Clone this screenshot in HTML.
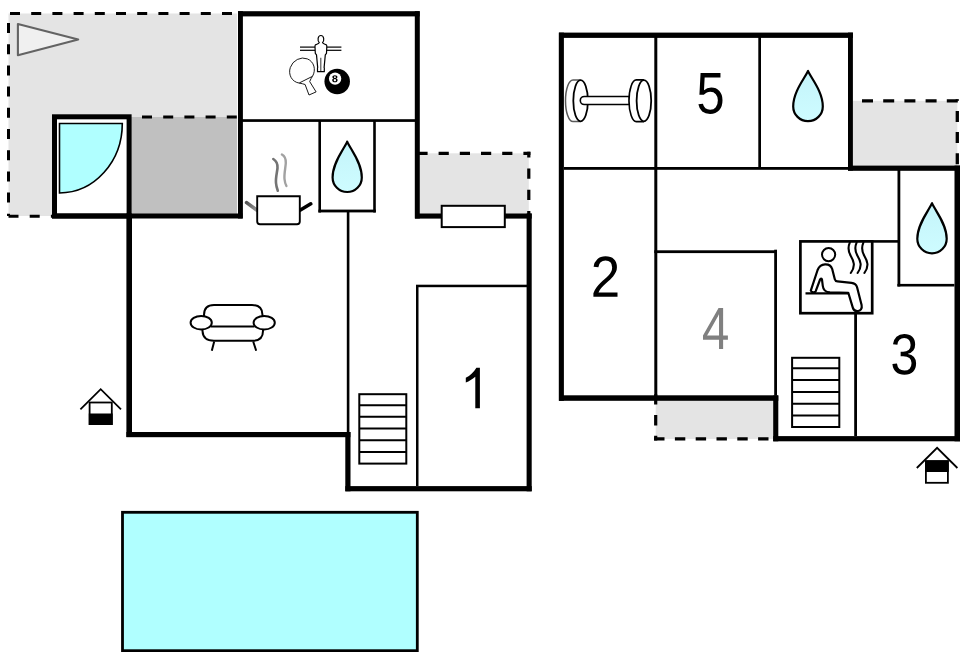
<!DOCTYPE html>
<html><head><meta charset="utf-8">
<style>
html,body{margin:0;padding:0;background:#fff;width:960px;height:652px;overflow:hidden}
svg{display:block}
text{font-family:"Liberation Sans",sans-serif}
</style></head>
<body>
<svg width="960" height="652" viewBox="0 0 960 652">
<defs>
<linearGradient id="drop" x1="0" y1="0" x2="0" y2="1">
<stop offset="0" stop-color="#c4f4fa"/><stop offset="1" stop-color="#cefcff"/>
</linearGradient>
<linearGradient id="hl" gradientUnits="userSpaceOnUse" x1="246.6" y1="202.6" x2="257" y2="210.2"><stop offset="0" stop-color="#555"/><stop offset="1" stop-color="#999"/></linearGradient>
</defs>
<!-- ===== LEFT BUILDING ===== -->
<!-- terrace top-left -->
<rect x="8.5" y="13.5" width="228.6" height="202.5" fill="#e4e4e4"/>
<rect x="131" y="117" width="106.1" height="97" fill="#c0c0c0"/>
<g stroke="#000" stroke-width="3" fill="none" stroke-dasharray="10 11.2">
<line x1="10" y1="13.5" x2="238" y2="13.5"/>
<line x1="8.5" y1="23" x2="8.5" y2="216"/>
<line x1="8.5" y1="216.2" x2="52" y2="216.2"/>
<line x1="142" y1="117.1" x2="238" y2="117.1"/>
</g>
<!-- triangle -->
<polygon points="17.9,24 17.9,55.2 78.2,39.6" fill="#f0f0f0" stroke="#636363" stroke-width="2.1" stroke-linejoin="round"/>
<!-- shower box -->
<rect x="54.5" y="116.8" width="74.6" height="99.2" fill="#fff" stroke="#000" stroke-width="5"/>
<path d="M59.5,123.5 H122.3 A63,69.5 0 0 1 59.5,193 Z" fill="#b0ffff" stroke="#000" stroke-width="1.6"/>

<!-- right terrace of left building -->
<rect x="420" y="153.3" width="108.8" height="61" fill="#e4e4e4"/>
<g stroke="#000" stroke-width="3.2" fill="none" stroke-dasharray="10.2 11">
<line x1="417.4" y1="153.3" x2="530.4" y2="153.3"/>
<line x1="528.8" y1="151.7" x2="528.8" y2="214" stroke-dashoffset="4.4"/>
</g>

<!-- game room walls -->
<g fill="#000">
<rect x="238" y="11.2" width="181.6" height="5.2"/>
<rect x="238" y="11.2" width="4.9" height="207.3"/>
<rect x="414.8" y="11.2" width="5" height="207.3"/>
<!-- living room -->
<rect x="52" y="213.5" width="190.5" height="5"/>
<rect x="126.4" y="213.5" width="5.6" height="223.5"/>
<rect x="126.4" y="432" width="224" height="5.2"/>
<rect x="345.3" y="432" width="5.2" height="59.3"/>
<rect x="345.3" y="486.1" width="186.4" height="5.2"/>
<rect x="526.6" y="213.5" width="5.1" height="277.8"/>
<rect x="415" y="213.5" width="116.7" height="5.1"/>
<!-- thin interior lines -->
<rect x="242" y="119.2" width="173" height="2.7"/>
<rect x="318.4" y="121" width="2.6" height="91.5"/>
<rect x="373.2" y="121" width="2.6" height="91.5"/>
<rect x="318.4" y="209.6" width="57.4" height="2.8"/>
<rect x="346.8" y="212" width="2.6" height="220"/>
<rect x="416" y="284.7" width="111" height="2.5"/>
<rect x="416" y="285" width="2.5" height="201"/>
</g>
<!-- bench -->
<rect x="441.7" y="205.8" width="63.1" height="21.3" fill="#fff" stroke="#000" stroke-width="2"/>
<!-- stairs left -->
<g fill="none" stroke="#000" stroke-width="2">
<rect x="359.3" y="394.2" width="47" height="69.4"/>
<path d="M359.3,405.3H406.3M359.3,416.8H406.3M359.3,428.5H406.3M359.3,440.3H406.3M359.3,451.9H406.3"/>
</g>
<!-- label 1 -->
<path d="M479.9,367.8 V408.2 H475.3 V376.8 C472.3,379.3 469.2,381.3 465.8,382.6 V377.8 C470.2,375.8 474,372 476.4,367.8 Z" fill="#000"/>

<!-- water drop 1 -->
<path d="M347.20,141.60 C344.28,148.76 332.60,162.36 332.60,177.40 C332.60,185.46 339.14,192.00 347.20,192.00 C355.26,192.00 361.80,185.46 361.80,177.40 C361.80,162.36 350.12,148.76 347.20,141.60 Z" fill="url(#drop)" stroke="#000" stroke-width="2.2" stroke-linejoin="round"/>

<!-- pool -->
<rect x="122.5" y="512.3" width="294.8" height="138.4" fill="#b0ffff" stroke="#000" stroke-width="2.8"/>

<!-- ===== RIGHT BUILDING ===== -->
<rect x="853" y="100.8" width="104.3" height="65" fill="#e4e4e4"/>
<g stroke="#000" stroke-width="3.3" fill="none" stroke-dasharray="11 10.2">
<line x1="862" y1="100.8" x2="959" y2="100.8"/>
<line x1="957.3" y1="99.2" x2="957.3" y2="166" stroke-dashoffset="9.5"/>
</g>
<rect x="655.7" y="400.5" width="118" height="38.4" fill="#e4e4e4"/>
<g stroke="#000" stroke-width="3.2" fill="none" stroke-dasharray="10.4 10.4">
<line x1="655.7" y1="394.2" x2="655.7" y2="440.5"/>
<line x1="654.1" y1="438.9" x2="774" y2="438.9"/>
</g>
<g fill="#000">
<rect x="559" y="32.6" width="293.9" height="5.3"/>
<rect x="558.8" y="32.6" width="5.1" height="368.2"/>
<rect x="848" y="32.6" width="4.9" height="138"/>
<rect x="848" y="165.6" width="112" height="5.2"/>
<rect x="954.5" y="165.6" width="5.5" height="275.7"/>
<rect x="559" y="395.3" width="219.3" height="5.5"/>
<rect x="773.2" y="395.5" width="5.1" height="45.8"/>
<rect x="773.2" y="436.1" width="186.8" height="5.2"/>
<!-- interior -->
<rect x="654.3" y="37" width="3" height="360"/>
<rect x="758.3" y="37" width="2.7" height="131"/>
<rect x="564" y="167" width="284" height="2.8"/>
<rect x="654.3" y="250.3" width="122.7" height="2.8"/>
<rect x="774.2" y="249.7" width="2.8" height="146"/>
<rect x="860" y="240.1" width="40" height="2.6"/>
<rect x="897.5" y="169" width="2.8" height="117.5"/>
<rect x="897.4" y="283.9" width="57" height="2.6"/>
<rect x="854.2" y="314" width="2.8" height="122"/>
</g>
<!-- sauna box -->
<rect x="800.4" y="241.4" width="71.8" height="71.8" fill="#fff" stroke="#000" stroke-width="2.7"/>
<!-- stairs right -->
<g fill="none" stroke="#000" stroke-width="2">
<rect x="792.1" y="357.8" width="47.2" height="69.2"/>
<path d="M792.1,368.3H839.3M792.1,380.1H839.3M792.1,391.9H839.3M792.1,403.7H839.3M792.1,415.5H839.3"/>
</g>
<!-- labels -->
<path d="M722.5 100.19Q722.5 106.57 719.21 110.24Q715.92 113.9 710.09 113.9Q705.2 113.9 702.2 111.44Q699.19 108.98 698.4 104.31L702.92 103.71Q704.33 109.69 710.19 109.69Q713.79 109.69 715.82 107.19Q717.86 104.68 717.86 100.3Q717.86 96.5 715.81 94.15Q713.76 91.8 710.29 91.8Q708.48 91.8 706.91 92.46Q705.35 93.12 703.79 94.7H699.42L700.58 73H720.46V77.38H704.65L703.98 90.17Q706.89 87.6 711.21 87.6Q716.37 87.6 719.43 91.09Q722.5 94.58 722.5 100.19Z" fill="#000"/>
<path d="M593.4 296.8V293.2Q594.72 289.89 596.62 287.35Q598.51 284.82 600.61 282.77Q602.7 280.71 604.75 278.96Q606.81 277.2 608.46 275.45Q610.11 273.69 611.13 271.76Q612.15 269.84 612.15 267.4Q612.15 264.12 610.4 262.3Q608.64 260.49 605.51 260.49Q602.54 260.49 600.62 262.26Q598.7 264.03 598.36 267.23L593.61 266.75Q594.12 261.96 597.31 259.13Q600.5 256.3 605.51 256.3Q611.02 256.3 613.97 259.15Q616.93 261.99 616.93 267.23Q616.93 269.55 615.96 271.85Q614.99 274.14 613.08 276.44Q611.17 278.73 605.77 283.55Q602.8 286.21 601.05 288.35Q599.29 290.48 598.51 292.47H617.5V296.8Z" fill="#000"/>
<path d="M723.12 339.64V348.9H719.02V339.64H703V335.58L718.56 308H723.12V335.52H727.9V339.64ZM719.02 313.89Q718.97 314.07 718.35 315.43Q717.72 316.8 717.4 317.35L708.69 332.79L707.39 334.94L707.01 335.52H719.02Z" fill="#808080"/>
<path d="M916.1 363.26Q916.1 368.76 913.07 371.78Q910.05 374.8 904.43 374.8Q899.21 374.8 896.1 372.08Q892.99 369.36 892.4 364.02L896.94 363.55Q897.82 370.6 904.43 370.6Q907.75 370.6 909.64 368.71Q911.54 366.82 911.54 363.09Q911.54 359.85 909.38 358.03Q907.22 356.21 903.14 356.21H900.65V351.81H903.04Q906.65 351.81 908.64 349.99Q910.63 348.17 910.63 344.96Q910.63 341.77 909.01 339.92Q907.39 338.07 904.19 338.07Q901.28 338.07 899.49 339.8Q897.7 341.52 897.4 344.65L892.99 344.25Q893.47 339.37 896.49 336.64Q899.5 333.9 904.24 333.9Q909.41 333.9 912.28 336.68Q915.15 339.46 915.15 344.42Q915.15 348.23 913.31 350.61Q911.46 353 907.95 353.84V353.96Q911.8 354.43 913.95 356.95Q916.1 359.46 916.1 363.26Z" fill="#000"/>
<!-- drops -->
<path d="M808.00,70.90 C805.04,78.00 793.20,91.49 793.20,106.40 C793.20,114.57 799.83,121.20 808.00,121.20 C816.17,121.20 822.80,114.57 822.80,106.40 C822.80,91.49 810.96,78.00 808.00,70.90 Z" fill="url(#drop)" stroke="#000" stroke-width="2.2" stroke-linejoin="round"/>
<path d="M932.00,203.20 C929.06,210.30 917.30,223.79 917.30,238.70 C917.30,246.82 923.88,253.40 932.00,253.40 C940.12,253.40 946.70,246.82 946.70,238.70 C946.70,223.79 934.94,210.30 932.00,203.20 Z" fill="url(#drop)" stroke="#000" stroke-width="2.2" stroke-linejoin="round"/>

<!-- house icons -->
<g>
<path d="M80.4,409.3 L100.7,389.2 L121,409.3" fill="none" stroke="#000" stroke-width="1.8"/>
<rect x="89.6" y="402.5" width="22.2" height="21.6" fill="#fff" stroke="#000" stroke-width="1.8"/>
<rect x="88.8" y="413.5" width="23.9" height="11.4" fill="#000"/>
</g>
<g>
<path d="M916.8,468 L937.1,447.8 L957.4,468" fill="none" stroke="#000" stroke-width="1.8"/>
<rect x="925.9" y="461.2" width="22" height="21.6" fill="#fff" stroke="#000" stroke-width="1.8"/>
<rect x="925" y="460.3" width="23.7" height="11.7" fill="#000"/>
</g>

<!-- ===== ICONS ===== -->
<!-- foosball figure -->
<g stroke="#000" stroke-width="1.2" fill="none">
<line x1="300" y1="47.1" x2="315" y2="47.1"/><line x1="300" y1="50.3" x2="315" y2="50.3"/>
<line x1="326.5" y1="47.1" x2="341.4" y2="47.1"/><line x1="326.5" y1="50.3" x2="341.4" y2="50.3"/>
<path d="M319.3,42.4 C317.4,41.2 317.5,35.5 320.9,35.5 C324.3,35.5 324.4,41.2 322.5,42.4 C322.8,43.8 324.6,44 325.9,44.6 C326.8,45.1 326.9,45.8 326.8,46.6 L326.5,53.3 L325.3,54.9 L324.1,67.6 L324.3,67.8 L324.3,71.7 L317.5,71.7 L317.5,67.8 L317.7,67.6 L316.5,54.9 L315.3,53.3 L315,46.6 C314.9,45.8 315,45.1 315.9,44.6 C317.2,44 319,43.8 319.3,42.4 Z" fill="#fff" stroke-linejoin="round"/>
<line x1="320.8" y1="57.8" x2="320.8" y2="70.9" stroke="#444" stroke-width="1.1"/>
</g>
<!-- paddle -->
<g stroke="#000" stroke-width="0.9" fill="#fff">
<path d="M299.1,83.05 C301.2,83.8 303.6,83.6 305.1,84.5 L309,95 L316.1,91.9 L309.7,81.6 C310.3,79.6 311.6,77.6 312.5,76.3" stroke-linejoin="round"/>
<path d="M299.1,83.05 A11.9,13.0 40 1 1 312.5,76.3 Z"/>
</g>
<!-- 8 ball -->
<circle cx="337.2" cy="81.5" r="12.75" fill="#000"/>
<circle cx="335.1" cy="78.7" r="6.15" fill="#fff"/>
<path d="M337.6 80.19Q337.6 81.14 336.9 81.67Q336.2 82.2 334.9 82.2Q333.62 82.2 332.91 81.67Q332.2 81.15 332.2 80.2Q332.2 79.54 332.62 79.1Q333.03 78.65 333.73 78.55V78.53Q333.12 78.41 332.75 77.98Q332.38 77.56 332.38 77Q332.38 76.17 333.03 75.68Q333.68 75.2 334.88 75.2Q336.1 75.2 336.76 75.67Q337.41 76.14 337.41 77.01Q337.41 77.57 337.04 77.99Q336.67 78.41 336.05 78.52V78.54Q336.77 78.64 337.19 79.07Q337.6 79.51 337.6 80.19ZM335.87 77.08Q335.87 76.6 335.62 76.38Q335.38 76.15 334.88 76.15Q333.91 76.15 333.91 77.08Q333.91 78.06 334.89 78.06Q335.38 78.06 335.63 77.83Q335.87 77.6 335.87 77.08ZM336.05 80.08Q336.05 79.01 334.87 79.01Q334.33 79.01 334.03 79.29Q333.74 79.57 333.74 80.1Q333.74 80.69 334.03 80.97Q334.32 81.24 334.91 81.24Q335.5 81.24 335.77 80.97Q336.05 80.69 336.05 80.08Z" fill="#000"/>

<!-- pot -->
<g>
<path d="M273.3,159 C276.5,161 277.8,164 277.5,168 C277,173 275.5,178 276,183 C276.2,186 277,188.5 277.8,190.7" fill="none" stroke="#747474" stroke-width="2.6" stroke-linecap="round"/>
<path d="M281.9,154.5 C284.6,156 286,159 285.8,163 C285.5,168 284,174 284.5,179 C284.8,182 285.5,184.5 286.4,185.9" fill="none" stroke="#a2a2a2" stroke-width="2.4" stroke-linecap="round"/>
<line x1="246.6" y1="202.6" x2="257" y2="210.2" stroke="url(#hl)" stroke-width="3.6" stroke-linecap="round"/>
<line x1="300" y1="210.2" x2="310.8" y2="203.8" stroke="#000" stroke-width="3.6" stroke-linecap="round"/>
<path d="M257.2,196.2 H299.8 V221.5 Q299.8,224.2 297,224.2 H260 Q257.2,224.2 257.2,221.5 Z" fill="#fff" stroke="#000" stroke-width="1.9"/>
</g>

<!-- sofa -->
<g fill="#fff" stroke="#000" stroke-width="2">
<path d="M204,322 V315 Q204,305 214,305 H252 Q262.5,305 262.5,315 V322"/>
<path d="M202.5,330 V331 Q203,340.8 214,340.8 H252.5 Q263,340.8 263,331 V330"/>
<line x1="211" y1="326.5" x2="254.5" y2="326.5"/>
<ellipse cx="201.2" cy="322.7" rx="10.6" ry="6.8"/>
<ellipse cx="264.2" cy="322.7" rx="10.6" ry="6.8"/>
<path d="M214.2,341.5 L211.8,350.8 M253.2,341.5 L256.2,350.8" fill="none"/>
</g>

<!-- dumbbell -->
<g stroke="#000" stroke-width="1.6" fill="#fff">
<path d="M580.5,79.9 H573 C568.8,79.9 565.5,89 565.5,100.7 C565.5,112.4 568.8,121.6 573,121.6 H580.5" stroke="#5a5a5a" stroke-width="1.5"/>
<ellipse cx="580.6" cy="100.75" rx="7.3" ry="20.6" stroke-width="1.8"/>
<path d="M584.3,96.5 H629.5 V104.5 H584.3 A4,4 0 0 1 584.3,96.5 Z"/>
<path d="M643.9,79.9 H636.3 C632.3,79.9 629,89 629,100.7 C629,112.4 632.3,121.6 636.3,121.6 H643.9"/>
<ellipse cx="643.9" cy="100.75" rx="7.3" ry="20.6" stroke-width="1.8"/>
</g>

<!-- sauna -->
<g fill="none" stroke="#000" stroke-width="2.1" stroke-linecap="round">
<path d="M849.8,242.6 C847.6,247.5 848.2,251.5 850.8,256 C853.8,261 855.8,266 850.8,273"/>
<path d="M856.6,242.6 C854.4,247.5 855,251.5 857.6,256 C860.6,261 862.6,266 857.6,273"/>
<path d="M863.4,242.6 C861.2,247.5 861.8,251.5 864.4,256 C867.4,261 869.4,266 864.4,273"/>
<circle cx="828.6" cy="254.6" r="6.6" stroke-width="2"/>
<path d="M810.8,290.6 L817.6,270 C819,266.5 821,264.6 825,264.4 C828.6,264.2 831.2,266 832.2,269 L834.8,279.2 C835.2,280.8 836,281.2 837.5,281.3 L851.5,282.8 C854.6,283.2 856.2,284.5 857,287 L861.6,305 C862.4,308.8 860.5,311 857.5,311.2 C855,311.4 853.5,310 852.8,307.6 L848.3,292.8 L830,292.4 C825.5,292.2 823.2,289.5 822.8,286 L822,279.6 C821.8,278.3 820.5,278.3 820.1,279.5 L815.7,291.2 C815,292.8 811.8,292.8 810.8,290.6 Z" stroke-width="2.2" stroke-linejoin="round"/>
<line x1="805.5" y1="293.4" x2="849" y2="293.4" stroke-width="2.1" stroke-linecap="butt"/>
</g>
</svg>
</body></html>
